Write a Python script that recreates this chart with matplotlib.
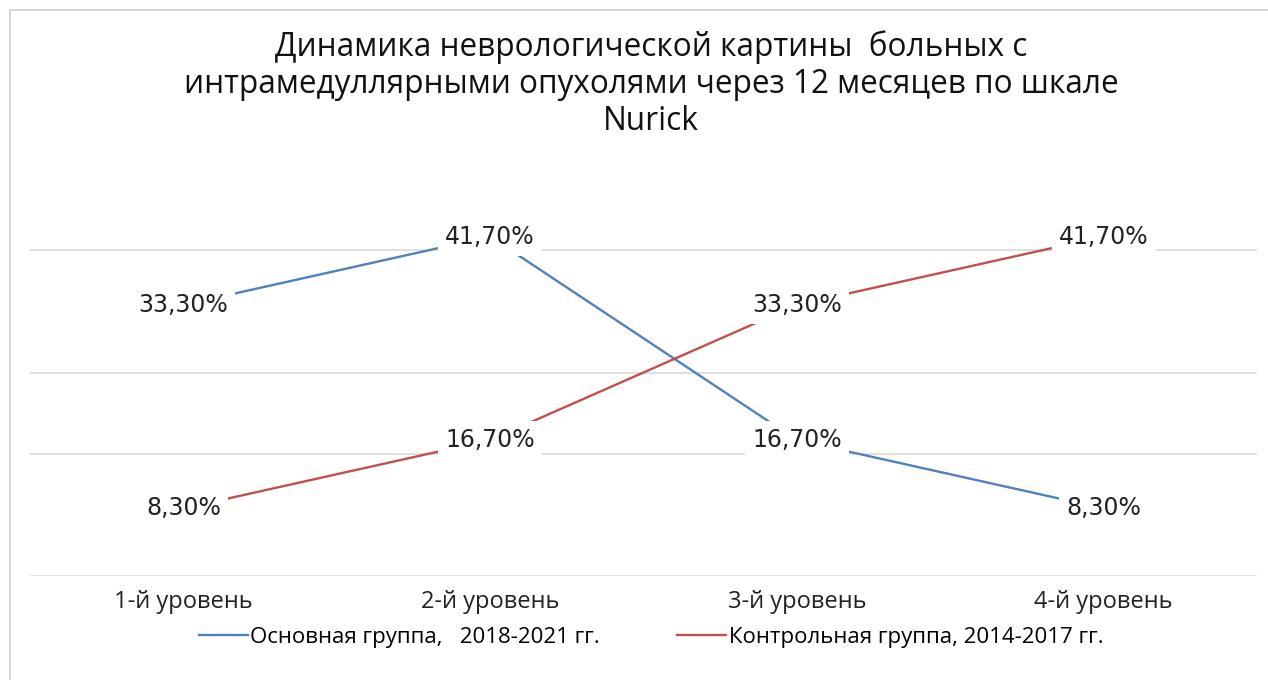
import matplotlib.pyplot as plt
from matplotlib.patches import Rectangle
from matplotlib import font_manager

# data
levels = ['1-й уровень', '2-й уровень', '3-й уровень', '4-й уровень']
main_group = [33.3, 41.7, 16.7, 8.3]
control_group = [8.3, 16.7, 33.3, 41.7]
main_name = 'Основная группа,   2018-2021 гг.'
control_name = 'Контрольная группа, 2014-2017 гг.'
grid_levels = [0, 15, 25, 40]
title = ('Динамика неврологической картины  больных с\n'
         'интрамедуллярными опухолями через 12 месяцев по шкале\n'
         'Nurick')

names = {f.name for f in font_manager.fontManager.ttflist}
narrow = 'Liberation Sans Narrow' if 'Liberation Sans Narrow' in names else 'Open Sans'

blue = '#4F81BD'
red = '#C0504D'

fig = plt.figure(figsize=(12.68, 6.8), dpi=100)
fig.patches.append(Rectangle((10 / 1268, -0.1), 1.2, 1 - 10 / 680 + 0.1,
                             transform=fig.transFigure, fill=False,
                             edgecolor='#D0D0D0', linewidth=1.2))

ax = fig.add_axes([30 / 1268, 1 - 576 / 680, 1227 / 1268, 407 / 680])
x = range(len(levels))
ax.plot(x, main_group, color=blue, linewidth=1.7, zorder=3, label=main_name)
ax.plot(x, control_group, color=red, linewidth=1.7, zorder=3, label=control_name)

for series in (main_group, control_group):
    for i, v in enumerate(series):
        ax.text(i, v, f'{v:.2f}%'.replace('.', ','), ha='center', va='center',
                fontsize=17, family='DejaVu Sans', color='#222222', zorder=4,
                bbox=dict(boxstyle='square,pad=0.3', facecolor='white',
                          edgecolor='none'))

ax.set_xlim(-0.5, 3.5)
ax.set_ylim(0, 50)
ax.set_yticks(grid_levels)
ax.yaxis.grid(True, color='#DADADA', linewidth=1.2, zorder=1)
ax.set_axisbelow(True)
ax.tick_params(axis='y', left=False, labelleft=False)
ax.set_xticks(list(x))
ax.set_xticklabels(levels, family=narrow, fontsize=17, color='#222222')
ax.tick_params(axis='x', length=0, pad=10)
for s in ax.spines.values():
    s.set_visible(False)

fig.text(651 / 1268, 1 - 30 / 680, title, ha='center', va='top',
         family=narrow, fontsize=22.7, linespacing=1.17, color='#111111')

fig.legend(loc='center', bbox_to_anchor=(651 / 1268, 1 - 637 / 680), ncol=2,
           frameon=False, prop={'family': narrow, 'size': 16},
           handlelength=2.2, handletextpad=0.1, columnspacing=3.5)

fig.savefig('out.png', dpi=100, facecolor='white')
